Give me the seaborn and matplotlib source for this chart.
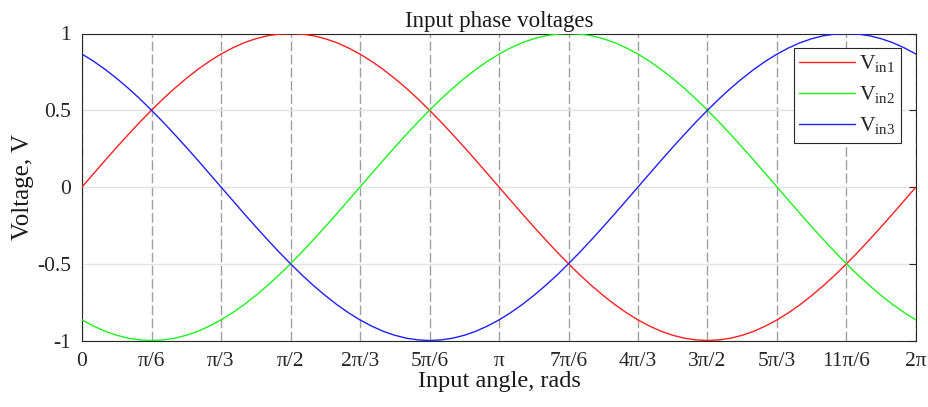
import numpy as np
import pandas as pd
import matplotlib
matplotlib.use("Agg")
import matplotlib.pyplot as plt
import seaborn as sns

# angle samples (degrees, every 5°) and the three phase voltages
angle_deg = [0, 5, 10, 15, 20, 25, 30, 35, 40, 45, 50, 55, 60, 65, 70, 75, 80, 85, 90,
             95, 100, 105, 110, 115, 120, 125, 130, 135, 140, 145, 150, 155, 160, 165, 170, 175, 180,
             185, 190, 195, 200, 205, 210, 215, 220, 225, 230, 235, 240, 245, 250, 255, 260, 265, 270,
             275, 280, 285, 290, 295, 300, 305, 310, 315, 320, 325, 330, 335, 340, 345, 350, 355, 360]
v_in1 = [0, 0.087, 0.174, 0.259, 0.342, 0.423, 0.5, 0.574, 0.643, 0.707, 0.766, 0.819, 0.866, 0.906, 0.940, 0.966, 0.985, 0.996, 1,
         0.996, 0.985, 0.966, 0.940, 0.906, 0.866, 0.819, 0.766, 0.707, 0.643, 0.574, 0.5, 0.423, 0.342, 0.259, 0.174, 0.087, 0,
         -0.087, -0.174, -0.259, -0.342, -0.423, -0.5, -0.574, -0.643, -0.707, -0.766, -0.819, -0.866, -0.906, -0.940, -0.966, -0.985, -0.996, -1,
         -0.996, -0.985, -0.966, -0.940, -0.906, -0.866, -0.819, -0.766, -0.707, -0.643, -0.574, -0.5, -0.423, -0.342, -0.259, -0.174, -0.087, 0]
v_in2 = [-0.866, -0.906, -0.940, -0.966, -0.985, -0.996, -1, -0.996, -0.985, -0.966, -0.940, -0.906,
         -0.866, -0.819, -0.766, -0.707, -0.643, -0.574, -0.5, -0.423, -0.342, -0.259, -0.174, -0.087,
         0, 0.087, 0.174, 0.259, 0.342, 0.423, 0.5, 0.574, 0.643, 0.707, 0.766, 0.819, 0.866, 0.906, 0.940, 0.966, 0.985, 0.996, 1,
         0.996, 0.985, 0.966, 0.940, 0.906, 0.866, 0.819, 0.766, 0.707, 0.643, 0.574, 0.5, 0.423, 0.342, 0.259, 0.174, 0.087, 0,
         -0.087, -0.174, -0.259, -0.342, -0.423, -0.5, -0.574, -0.643, -0.707, -0.766, -0.819, -0.866]
v_in3 = [0.866, 0.819, 0.766, 0.707, 0.643, 0.574, 0.5, 0.423, 0.342, 0.259, 0.174, 0.087, 0,
         -0.087, -0.174, -0.259, -0.342, -0.423, -0.5, -0.574, -0.643, -0.707, -0.766, -0.819, -0.866, -0.906, -0.940, -0.966, -0.985, -0.996, -1,
         -0.996, -0.985, -0.966, -0.940, -0.906, -0.866, -0.819, -0.766, -0.707, -0.643, -0.574, -0.5, -0.423, -0.342, -0.259, -0.174, -0.087,
         0, 0.087, 0.174, 0.259, 0.342, 0.423, 0.5, 0.574, 0.643, 0.707, 0.766, 0.819, 0.866, 0.906, 0.940, 0.966, 0.985, 0.996, 1,
         0.996, 0.985, 0.966, 0.940, 0.906, 0.866]
series_names = ["Vin1", "Vin2", "Vin3"]
legend_labels = [r"V$_{\mathregular{in1}}$", r"V$_{\mathregular{in2}}$", r"V$_{\mathregular{in3}}$"]
tick_labels = ["0", "π/6", "π/3", "π/2", "2π/3", "5π/6", "π", "7π/6", "4π/3", "3π/2",
               "5π/3", "11π/6", "2π"]
y_ticks = [-1, -0.5, 0, 0.5, 1]
y_tick_labels = ["-1", "-0.5", "0", "0.5", "1"]

colors = {"Vin1": "#ff2020", "Vin2": "#20f020", "Vin3": "#2020ff"}

sns.set_theme(style="white")
plt.rcParams["font.family"] = ["Liberation Serif", "DejaVu Serif"]
plt.rcParams["mathtext.fontset"] = "custom"
plt.rcParams["mathtext.rm"] = "Liberation Serif"

angle_rad = np.deg2rad(np.array(angle_deg, dtype=float))
df = pd.DataFrame({
    "angle": np.concatenate([angle_rad] * 3),
    "voltage": np.concatenate([v_in1, v_in2, v_in3]),
    "series": np.repeat(series_names, len(angle_deg)),
})

fig = plt.figure(figsize=(9.29, 4.07), dpi=100)
ax = fig.add_axes([82 / 929, 1 - 340.5 / 407, (916 - 82) / 929, (340.5 - 33.5) / 407])

sns.lineplot(data=df, x="angle", y="voltage", hue="series", palette=colors, ax=ax,
             linewidth=1.0, legend=False, sort=False, zorder=3)

ax.set_xlim(0, 2 * np.pi)
ax.set_ylim(-1, 1)
ax.set_xticks(np.arange(13) * np.pi / 6)
ax.set_xticklabels(tick_labels)
ax.set_yticks(y_ticks)
ax.set_yticklabels(y_tick_labels)

ax.grid(axis="x", linestyle=(0, (7, 2.5)), color="#a0a0a0", linewidth=1.0)
ax.grid(axis="y", linestyle="-", color="#e3e3e3", linewidth=1.0)
ax.set_axisbelow(True)

for s in ax.spines.values():
    s.set_color("#262626")
    s.set_linewidth(0.8)
ax.tick_params(axis="both", direction="in", length=5, width=0.8, color="#262626",
               labelsize=15.5, labelcolor="#262626", top=True, right=True)
ax.tick_params(axis="y", pad=8)
ax.tick_params(axis="x", length=0, pad=8)

ax.set_title("Input phase voltages", fontsize=16.5, color="#1a1a1a", pad=5)
ax.set_xlabel("Input angle, rads", fontsize=17.5, color="#1a1a1a", labelpad=0)
ax.set_ylabel("Voltage, V", fontsize=18, color="#1a1a1a", labelpad=2)

handles = [plt.Line2D([0], [0], color=colors[n], linewidth=1.0) for n in series_names]
leg = ax.legend(handles, legend_labels, loc="upper right", bbox_to_anchor=(0.982, 0.953),
                borderaxespad=0, fontsize=15.5, frameon=True, fancybox=False, handlelength=2.6,
                borderpad=0.25, labelspacing=0.45, handletextpad=0.2)
leg.get_frame().set_edgecolor("#262626")
leg.get_frame().set_linewidth(0.8)
leg.get_frame().set_alpha(1)

fig.savefig("out.png", dpi=100)
